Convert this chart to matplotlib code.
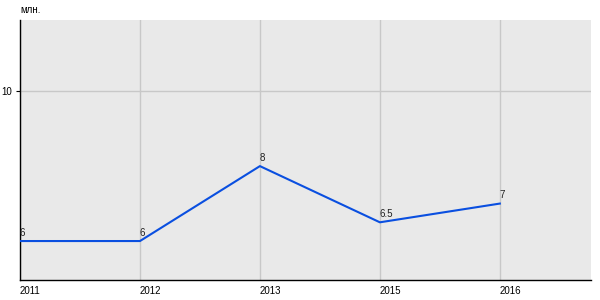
import matplotlib
matplotlib.use('Agg')
import matplotlib.pyplot as plt

years = ['2011', '2012', '2013', '2015', '2016']
values = [6, 6, 8, 6.5, 7]
labels = ['6', '6', '8', '6.5', '7']

plt.rcParams['font.family'] = ['Liberation Sans', 'DejaVu Sans']

fig = plt.figure(figsize=(6, 3), dpi=100)
ax = fig.add_axes([20/600, 20/300, 571/600, 260/300])
ax.set_facecolor('#e9e9e9')

x = list(range(len(years)))
ax.plot(x, values, color='#0a4fe0', lw=1.5, zorder=3)
for xi, v, lab in zip(x, values, labels):
    ax.annotate(lab, (xi, v), xytext=(0, 2.5), textcoords='offset points',
                ha='left', va='bottom', fontsize=7, color='#222222')

ax.set_xlim(0, 4.76)
ax.set_ylim(4.96, 11.9)
ax.set_xticks(x)
ax.set_xticklabels(years, ha='left', fontsize=7)
ax.set_yticks([10])
ax.set_yticklabels(['10'], fontsize=7)
ax.tick_params(axis='x', length=0, pad=4)
ax.tick_params(axis='y', length=3, width=0.8, pad=3)
ax.grid(True, color='#c8c8c8', lw=1)
for s in ['top', 'right']:
    ax.spines[s].set_visible(False)
for s in ['left', 'bottom']:
    ax.spines[s].set_color('black')
    ax.spines[s].set_linewidth(1)

fig.text(20/600, 1 - 10/300, 'млн.', fontsize=7, ha='left', va='center')

fig.savefig('out.png', dpi=100)
